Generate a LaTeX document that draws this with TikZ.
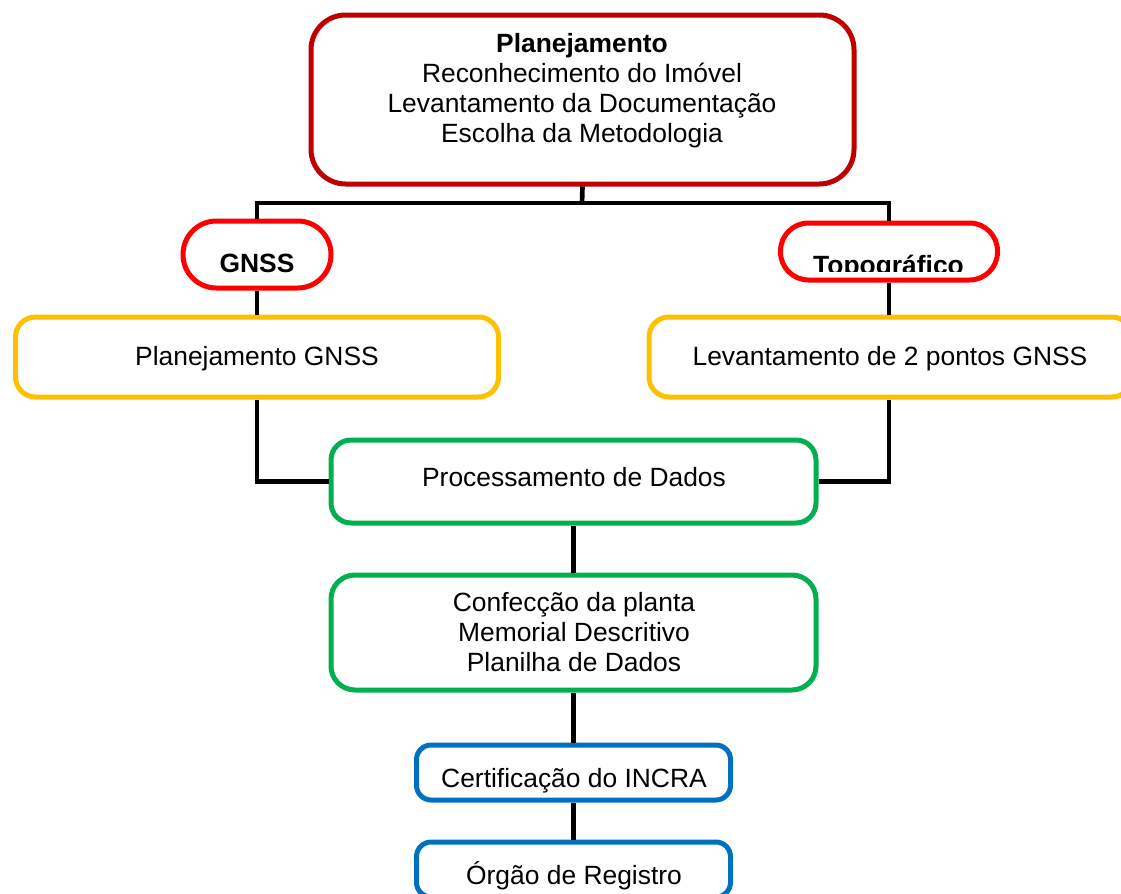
\documentclass[tikz,border=0pt]{standalone}
\usepackage{fontspec}
\setmainfont{Liberation Sans}
\definecolor{planred}{HTML}{C00000}
\definecolor{methred}{HTML}{FF0000}
\definecolor{stepgold}{HTML}{FFC000}
\definecolor{procgreen}{HTML}{00B050}
\definecolor{regblue}{HTML}{0070C0}
\tikzset{
  box/.style={draw=#1, line width=3.75pt, inner sep=0pt},
  txt/.style={font=\fontsize{19.8}{22.5}\selectfont, align=center, inner sep=0pt},
  link/.style={line width=3.5pt, draw=black},
}
\begin{document}
\begin{tikzpicture}[x=0.75pt,y=0.75pt,yscale=-1,xscale=1]
\useasboundingbox (0,0) rectangle (1121,893);
\clip (0,0) rectangle (1121,893);

% boxes
\node[box=planred, rounded corners=26pt, minimum width=407.25pt, minimum height=126.75pt] (plan) at (582.5,99.5) {};
\node[box=methred, rounded corners=25pt, minimum width=111pt, minimum height=50.25pt] (gnss) at (257,254.5) {};
\node[box=methred, rounded corners=21pt, minimum width=162.75pt, minimum height=42.75pt] (topo) at (889,251.5) {};
\node[box=stepgold, rounded corners=15pt, minimum width=362.25pt, minimum height=60pt] (pgnss) at (257,357) {};
\node[box=stepgold, rounded corners=15pt, minimum width=362.25pt, minimum height=60pt] (lev) at (890.5,357) {};
\node[box=procgreen, rounded corners=15pt, minimum width=363.75pt, minimum height=62.25pt] (proc) at (573.5,481.5) {};
\node[box=procgreen, rounded corners=18pt, minimum width=363.75pt, minimum height=86.25pt] (conf) at (573.5,632.5) {};
\node[box=regblue, rounded corners=11pt, minimum width=235.5pt, minimum height=41.25pt] (cert) at (573.5,772.5) {};
\node[box=regblue, rounded corners=11pt, minimum width=235.5pt, minimum height=41.25pt] (orgao) at (573.5,869.5) {};

% texts
\node[txt] (plan-t) at (582,91) {\textbf{Planejamento}\\Reconhecimento do Imóvel\\Levantamento da Documentação\\Escolha da Metodologia};
\node[txt, anchor=base] (gnss-t) at (257,272) {\textbf{GNSS}};
\begin{scope}
  \clip (780,223) rectangle (997,271);
  \node[txt, anchor=base] (topo-t) at (888.5,274) {\textbf{Topográfico}};
\end{scope}
\node[txt, anchor=base] (pgnss-t) at (257,365.5) {Planejamento GNSS};
\node[txt, anchor=base] (lev-t) at (890,365.5) {Levantamento de 2 pontos GNSS};
\node[txt, anchor=base] (proc-t) at (574,486.5) {Processamento de Dados};
\node[txt] (conf-t) at (574,632) {Confecção da planta\\Memorial Descritivo\\Planilha de Dados};
\node[txt, anchor=base] (cert-t) at (574,787.5) {Certificação do INCRA};
\node[txt, anchor=base] (orgao-t) at (574,884.5) {Órgão de Registro};

% connectors
\coordinate (split) at (582,203);
\draw[link] (plan.south) -- (split);
\draw[link] (gnss.north) -- (gnss.north |- split) -- (topo.north |- split) -- (topo.north);
\draw[link] (gnss.south) -- (pgnss.north);
\draw[link] (topo.south) -- (topo.south |- lev.north);
\draw[link] (pgnss.south) |- (proc.west);
\draw[link] (topo.south |- lev.south) |- (proc.east);
\draw[link] (proc.south) -- (conf.north);
\draw[link] (conf.south) -- (cert.north);
\draw[link] (cert.south) -- (orgao.north);
\end{tikzpicture}
\end{document}
